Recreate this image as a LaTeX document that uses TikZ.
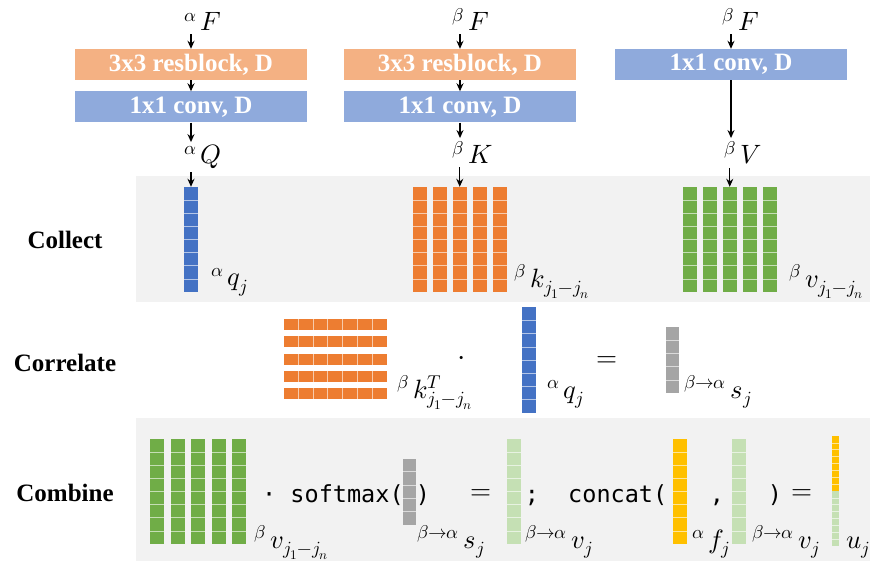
\documentclass[tikz,border=0pt]{standalone}
\usepackage{fontspec}
\usepackage{unicode-math}
\setmainfont{Liberation Serif}
\newfontfamily\codefont{DejaVu Sans Mono}
\usetikzlibrary{arrows.meta}

\definecolor{qblue}{HTML}{4472C4}
\definecolor{korange}{HTML}{ED7D31}
\definecolor{vgreen}{HTML}{70AD47}
\definecolor{sgray}{HTML}{A5A5A5}
\definecolor{lgreen}{HTML}{C5E0B4}
\definecolor{fyellow}{HTML}{FFC000}
\definecolor{resorange}{HTML}{F4B183}
\definecolor{convblue}{HTML}{8FAADC}
\definecolor{panelgray}{HTML}{F2F2F2}

\begin{document}
\begin{tikzpicture}[x=1pt, y=1pt, >={Stealth[length=8pt, width=7pt]},
  block/.style={minimum width=232pt, minimum height=31pt, inner sep=0pt, text=white, font=\fontsize{25}{30}\selectfont\bfseries},
  rowname/.style={font=\fontsize{25}{30}\selectfont\bfseries},
  lbl/.style={anchor=base west, inner sep=3pt, font=\fontsize{26.5}{30}\selectfont},
  code/.style={anchor=base, inner sep=0pt, font=\fontsize{23.5}{28}\selectfont\codefont},
  op/.style={inner sep=0pt, font=\fontsize{27}{30}\selectfont},
  vec/.style={inner sep=0pt, minimum width=14pt, minimum height=105pt},
  sep/.style={white, opacity=0.6, line width=1pt},
  flow/.style={->, line width=1.3pt}]

\useasboundingbox (0,0) rectangle (870,563);

% Panels behind Collect and Combine
\fill[panelgray] (136,261) rectangle (870,387);
\fill[panelgray] (136,2) rectangle (870,145);

% Row names
\node[rowname] (collect) at (65,323) {Collect};
\node[rowname] (correlate) at (65,200) {Correlate};
\node[rowname] (combine) at (65,70) {Combine};

% Three branches
\node[block, fill=resorange] (res1) at (191,498.5) {3x3 resblock, D};
\node[block, fill=convblue] (conv1) at (191,456) {1x1 conv, D};
\node[block, fill=resorange] (res2) at (460,498.5) {3x3 resblock, D};
\node[block, fill=convblue] (conv2) at (460,456) {1x1 conv, D};
\node[block, fill=convblue] (conv3) at (731,498.5) {1x1 conv, D};

\node[lbl] (Fa) at (181,532) {${}^{\alpha}\,F$};
\node[lbl] (Fb) at (449,532) {${}^{\beta}\,F$};
\node[lbl] (Fc) at (719,532) {${}^{\beta}\,F$};
\node[lbl] (Q) at (181,399) {${}^{\alpha}\,Q$};
\node[lbl] (K) at (449,399) {${}^{\beta}\,K$};
\node[lbl] (V) at (721,399) {${}^{\beta}\,V$};

% Collect
\node[vec, fill=qblue] (qc) at (191,323.5) {};
\foreach \i in {0,...,4} {
  \node[vec, fill=korange] (kc\i) at (419.75+20*\i,323.5) {};
  \node[vec, fill=vgreen] (vc\i) at (689.75+20*\i,323.5) {};
}
\node[lbl] (qlbl) at (208,277) {${}^{\alpha}\,q_j$};
\node[lbl] (klbl) at (511,276) {${}^{\beta}\,k_{j_1-j_n}$};
\node[lbl] (vlbl) at (786,276) {${}^{\beta}\,v_{j_1-j_n}$};

% Correlate
\foreach \r in {0,...,4} {
  \node[inner sep=0pt, minimum width=103pt, minimum height=11pt, fill=korange] (kt\r) at (335.5,238.5-17.25*\r) {};
  \foreach \k in {1,...,6}
    \draw[sep] ([xshift=\k*14.714pt]kt\r.south west) -- ([xshift=\k*14.714pt]kt\r.north west);
}
\node[lbl] (ktlbl) at (394,165) {${}^{\beta}\,k^{T}_{j_1-j_n}$};
\node[op, font=\fontsize{30}{30}\selectfont] (dot) at (462,202) {$\cdot$};
\node[vec, fill=qblue] (qr) at (528.5,203) {};
\node[lbl] (qrlbl) at (544,165) {${}^{\alpha}\,q_j$};
\node[op] (eq1) at (607,201) {$=$};
\node[vec, fill=sgray, minimum width=13pt, minimum height=66pt] (sr) at (672,203) {};
\node[lbl] (srlbl) at (681,165) {${}^{\beta\to\alpha}\,s_j$};

% Combine
\foreach \i in {0,...,4}
  \node[vec, fill=vgreen] (vm\i) at (157+20.5*\i,71.5) {};
\node[lbl] (vmlbl) at (251,15) {${}^{\beta}\,v_{j_1-j_n}$};
\node[code, anchor=base west] (softmax) at (262,61) {· softmax(};
\node[vec, fill=sgray, minimum width=13pt, minimum height=66pt] (sm) at (409,71.5) {};
\node[code] (close1) at (423,61) {)};
\node[lbl] (smlbl) at (414,15) {${}^{\beta\to\alpha}\,s_j$};
\node[op] (eq2) at (481,68) {$=$};
\node[vec, fill=lgreen] (vs1) at (514,71.5) {};
\node[lbl] (vs1lbl) at (522,15) {${}^{\beta\to\alpha}\,v_j$};
\node[code] (semi) at (532,61) {;};
\node[code, anchor=base west] (concat) at (568,61) {concat(};
\node[vec, fill=fyellow] (fa) at (680,71.5) {};
\node[lbl] (falbl) at (689,15) {${}^{\alpha}\,f_j$};
\node[code] (comma) at (717,61) {,};
\node[vec, fill=lgreen] (vs2) at (739,71.5) {};
\node[lbl] (vs2lbl) at (749,15) {${}^{\beta\to\alpha}\,v_j$};
\node[code] (close2) at (775,61) {)};
\node[op] (eq3) at (802,68) {$=$};
\node[vec, fill=fyellow, minimum width=7pt, minimum height=55pt] (ut) at (835.5,99.5) {};
\node[vec, fill=lgreen, minimum width=7pt, minimum height=55pt] (ub) at (835.5,44.5) {};
\node[lbl] (ulbl) at (843,15) {$u_j$};

% cell separators
\foreach \c in {qc,kc0,kc1,kc2,kc3,kc4,vc0,vc1,vc2,vc3,vc4,qr,vm0,vm1,vm2,vm3,vm4,vs1,fa,vs2}
  \foreach \k in {1,...,7}
    \draw[sep] ([yshift=\k*13.125pt]\c.south west) -- ([yshift=\k*13.125pt]\c.south east);
\foreach \c in {sr,sm}
  \foreach \k in {1,...,4}
    \draw[sep] ([yshift=\k*13.2pt]\c.south west) -- ([yshift=\k*13.2pt]\c.south east);
\foreach \c in {ut,ub}
  \foreach \k in {1,...,7}
    \draw[sep] ([yshift=\k*6.875pt]\c.south west) -- ([yshift=\k*6.875pt]\c.south east);

% Arrows
\draw[flow] (Fa.south -| res1.north) -- (res1.north);
\draw[flow] (res1) -- (conv1);
\draw[flow] (conv1) -- (Q.north -| conv1.south);
\draw[flow] (Q.south -| qc.north) -- (qc.north);
\draw[flow] (Fb.south -| res2.north) -- (res2.north);
\draw[flow] (res2) -- (conv2);
\draw[flow] (conv2) -- (K.north -| conv2.south);
\draw[flow] (K.south -| kc2.north) -- (kc2.north);
\draw[flow] (Fc.south -| conv3.north) -- (conv3.north);
\draw[flow] (conv3) -- (V.north -| conv3.south);
\draw[flow] (V.south -| vc2.north) -- (vc2.north);

\end{tikzpicture}
\end{document}
